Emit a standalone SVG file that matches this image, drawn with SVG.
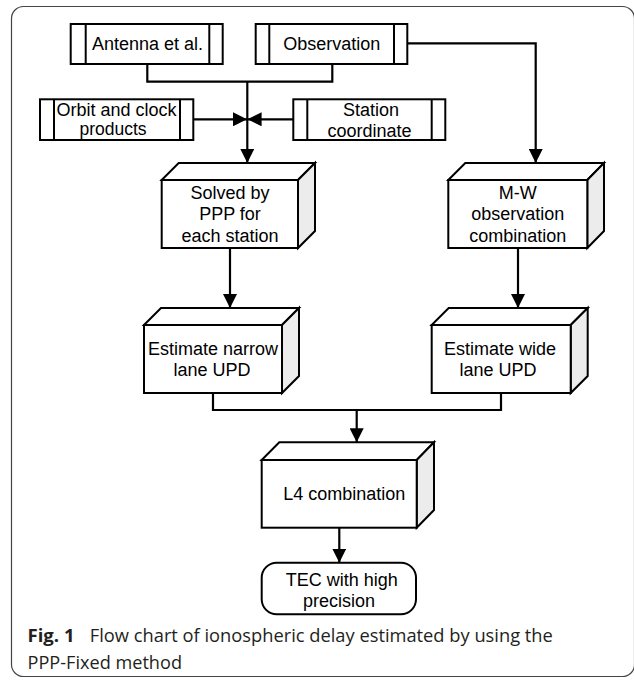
<svg xmlns="http://www.w3.org/2000/svg" width="634" height="680" viewBox="0 0 634 680">
<defs>
<marker id="ah" markerUnits="userSpaceOnUse" markerWidth="14" markerHeight="14" refX="14" refY="7" orient="auto">
<path d="M0,0 L14,7 L0,14 z" fill="#000"/>
</marker>
<style>
.b{fill:#fff;stroke:#000;stroke-width:2}
.s{fill:#ececec;stroke:#000;stroke-width:2;stroke-linejoin:miter}
.l{fill:none;stroke:#000;stroke-width:2}
.c{fill:none;stroke:#000;stroke-width:2.2}
.a{marker-end:url(#ah)}
.t{font-family:"Liberation Sans",Arial,sans-serif;font-size:18px;fill:#000;text-anchor:middle}
.cap{font-family:"Open Sans","Noto Sans",sans-serif;font-size:18px;fill:#231f20}
</style>
</defs>
<rect x="11.5" y="6.5" width="623" height="670" rx="12" fill="none" stroke="#444" stroke-width="1.2"/>

<g id="antenna">
<rect class="b" x="70.7" y="24" width="152" height="40"/>
<line class="l" x1="85.7" y1="24" x2="85.7" y2="64"/>
<line class="l" x1="209.3" y1="24" x2="209.3" y2="64"/>
<text class="t" x="147.5" y="50.3">Antenna et al.</text>
</g>

<g id="observation">
<rect class="b" x="255.7" y="24" width="151.6" height="40"/>
<line class="l" x1="269.3" y1="24" x2="269.3" y2="64"/>
<line class="l" x1="394" y1="24" x2="394" y2="64"/>
<text class="t" x="331.7" y="50.3">Observation</text>
</g>

<g id="orbit">
<rect class="b" x="40" y="99.3" width="153.3" height="40.7"/>
<line class="l" x1="54" y1="99.3" x2="54" y2="140"/>
<line class="l" x1="180" y1="99.3" x2="180" y2="140"/>
<text class="t" x="116.5" y="116" style="font-size:17.5px" textLength="120" lengthAdjust="spacingAndGlyphs">Orbit and clock</text>
<text class="t" x="113" y="134.5" style="font-size:17.5px">products</text>
</g>

<g id="station">
<rect class="b" x="293.3" y="99.3" width="152" height="40.7"/>
<line class="l" x1="307.3" y1="99.3" x2="307.3" y2="140"/>
<line class="l" x1="431.7" y1="99.3" x2="431.7" y2="140"/>
<text class="t" x="371" y="116">Station</text>
<text class="t" x="369.5" y="136.7">coordinate</text>
</g>

<g id="solved">
<polygon class="b" points="161.7,180 178.7,163 315,163 298,180"/>
<polygon class="s" points="298,180 315,163 315,231 298,248"/>
<rect class="b" x="161.7" y="180" width="136.3" height="68"/>
<text class="t" x="230" y="198.5">Solved by</text>
<text class="t" x="230" y="220.2">PPP for</text>
<text class="t" x="230" y="241.9">each station</text>
</g>

<g id="mw">
<polygon class="b" points="448.3,180 465.3,163 604,163 587.3,180"/>
<polygon class="s" points="587.3,180 604,163 604,231 587.3,248"/>
<rect class="b" x="448.3" y="180" width="139" height="68"/>
<text class="t" x="517.8" y="198.5">M-W</text>
<text class="t" x="517.8" y="220.2">observation</text>
<text class="t" x="517.8" y="241.9">combination</text>
</g>

<g id="narrow">
<polygon class="b" points="144,325 161,308 299,308 282,325"/>
<polygon class="s" points="282,325 299,308 299,376 282,393"/>
<rect class="b" x="144" y="325" width="138" height="68"/>
<text class="t" x="213" y="354.6">Estimate narrow</text>
<text class="t" x="212" y="376.3">lane UPD</text>
</g>

<g id="wide">
<polygon class="b" points="431.7,325 448.7,308 587.7,308 570.7,325"/>
<polygon class="s" points="570.7,325 587.7,308 587.7,376 570.7,393"/>
<rect class="b" x="431.7" y="325" width="139" height="68"/>
<text class="t" x="500" y="354.6">Estimate wide</text>
<text class="t" x="498" y="376.3">lane UPD</text>
</g>

<g id="l4">
<polygon class="b" points="261.7,460 279.3,442.3 434,442.3 416.7,460"/>
<polygon class="s" points="416.7,460 434,442.3 434,510 416.7,527.7"/>
<rect class="b" x="261.7" y="460" width="155" height="67.7"/>
<text class="t" x="344.3" y="500">L4 combination</text>
</g>

<g id="tec">
<rect class="b" x="261.7" y="562.7" width="154.3" height="51.6" rx="15"/>
<text class="t" x="341.7" y="585.7">TEC with high</text>
<text class="t" x="339" y="606.7">precision</text>
</g>

<g id="connectors">
<path class="c" d="M147.3,64 V81.7 H332.3 V64"/>
<path class="c a" d="M247.3,81.7 V163"/>
<path class="c a" d="M193.3,119.3 H247"/>
<path class="c a" d="M293.3,119.3 H247.6"/>
<path class="c a" d="M407.3,43.3 H535.7 V163"/>
<path class="c a" d="M230,248 V308"/>
<path class="c a" d="M518,248 V308"/>
<path class="c" d="M213,393 V410 H501 V393"/>
<path class="c a" d="M356.7,410 V442.3"/>
<path class="c a" d="M339.3,527.7 V562.7"/>
</g>

<g id="caption">
<text class="cap" x="27.5" y="642"><tspan font-weight="bold" textLength="47" lengthAdjust="spacingAndGlyphs">Fig. 1</tspan></text>
<text class="cap" x="89.8" y="642" textLength="463" lengthAdjust="spacingAndGlyphs">Flow chart of ionospheric delay estimated by using the</text>
<text class="cap" x="27.5" y="668.5" textLength="154.5" lengthAdjust="spacingAndGlyphs">PPP-Fixed method</text>
</g>
</svg>
